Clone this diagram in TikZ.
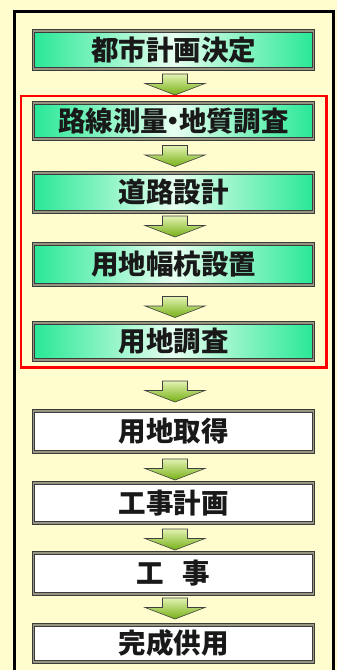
\documentclass[tikz,border=0pt]{standalone}
\usepackage{fontspec}
\newfontfamily\jp{Noto Sans CJK JP}
\usetikzlibrary{calc,fit}
\definecolor{bgyellow}{RGB}{255,253,206}
\definecolor{mint}{RGB}{40,232,150}
\definecolor{mintlight}{RGB}{232,255,240}
\definecolor{bandgray}{RGB}{150,150,128}
\definecolor{edgedark}{RGB}{60,60,60}
\definecolor{arrtop}{RGB}{226,242,178}
\definecolor{arrbot}{RGB}{118,176,20}
\tikzset{
  stepbase/.style={draw=edgedark, line width=0.8pt, double=bandgray, double distance=1.8pt,
    minimum width=280pt, inner sep=0pt, font=\jp\bfseries\fontsize{27.5}{30}\selectfont,
    text=black!90, anchor=center},
  greenbox/.style={stepbase, shading=axis, left color=mint, right color=mint, middle color=mintlight, shading angle=90},
  whitebox/.style={stepbase, fill=white},
  flowarr/.style={draw=black!75, line width=0.6pt, top color=arrtop, bottom color=arrbot},
  redframe/.style={draw=red, line width=2.2pt, inner xsep=12.5pt, inner ysep=7pt},
}
% block arrow centred between two nodes, optional downward shift (px)
\newcommand\flowarrow[3][0]{%
  \path[flowarr] let \p1=(#2.south), \p2=(#3.north),
      \n1={0.5*(\y1+\y2)-#1*1pt}, \n2={0.5*(\x1+\x2)+1.5pt} in
    ({\n2-12.5pt},{\n1+10.5pt}) -- ({\n2+12.5pt},{\n1+10.5pt}) --
    ({\n2+12.5pt},{\n1+1pt}) -- ({\n2+30pt},{\n1+1pt}) --
    ({\n2},{\n1-10.5pt}) -- ({\n2-30pt},{\n1+1pt}) --
    ({\n2-12.5pt},{\n1+1pt}) -- cycle;}
\begin{document}
\begin{tikzpicture}[x=1pt,y=-1pt]
  \useasboundingbox (0,0) rectangle (337,670);
  \clip (0,0) rectangle (337,670);
  \fill[bgyellow] (0,0) rectangle (337,670);
  \draw[black, line width=3pt] (14,700) -- (14,11) -- (333,11) -- (333,700);

  \node[greenbox, minimum height=38pt] (b1) at (173.5,50) {都市計画決定};
  \node[greenbox, minimum height=36pt] (b2) at (173.5,121) {路線測量\kern-0.3em・\kern-0.3em地質調査};
  \node[greenbox, minimum height=39pt] (b3) at (173.5,192.5) {道路設計};
  \node[greenbox, minimum height=41pt] (b4) at (173.5,264.5) {用地幅杭設置};
  \node[greenbox, minimum height=37pt] (b5) at (173.5,341.5) {用地調査};
  \node[whitebox, minimum height=41pt] (b6) at (173.5,431.5) {用地取得};
  \node[whitebox, minimum height=40pt] (b7) at (173.5,503) {工事計画};
  \node[whitebox, minimum height=41pt] (b8) at (173.5,573.5) {工\hspace{0.68em}事};
  \node[whitebox, minimum height=37pt] (b9) at (173.5,643.5) {完成供用};

  \node[redframe, fit=(b2)(b5)] (survey) {};

  \flowarrow[-1.5]{b1}{b2}
  \flowarrow{b2}{b3}
  \flowarrow[-1.5]{b3}{b4}
  \flowarrow[3]{b4}{b5}
  \flowarrow[6]{b5}{b6}
  \flowarrow[2]{b6}{b7}
  \flowarrow[1.5]{b7}{b8}
  \flowarrow[-1]{b8}{b9}
\end{tikzpicture}
\end{document}
